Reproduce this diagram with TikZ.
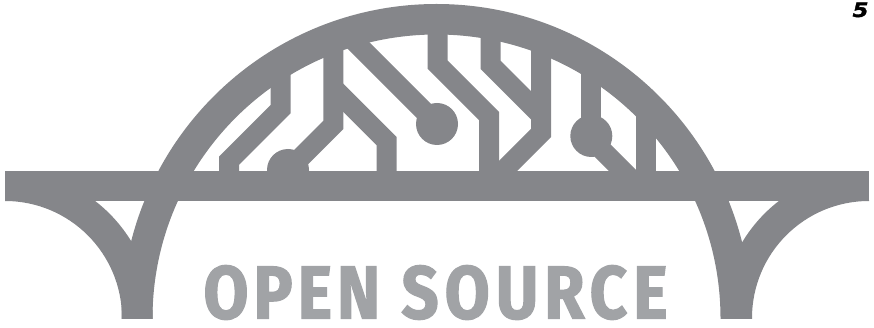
\documentclass[tikz,border=0pt]{standalone}
\usepackage{fontspec}
\newfontfamily\labelfont[FakeBold=1.6,FakeStretch=0.87,LetterSpace=8,WordSpace=0.75]{Fira Sans Bold}
\newfontfamily\markfont[FakeBold=1.5,FakeStretch=1.15]{DejaVu Sans Bold Oblique}
\definecolor{bridgegray}{HTML}{85868A}
\definecolor{labelgray}{HTML}{A1A3A6}
\tikzset{
  trace/.style={draw=bridgegray,line width=20pt,line cap=butt,line join=miter,miter limit=10},
  solder/.style={fill=bridgegray},
  massive/.style={fill=bridgegray,even odd rule},
}
\begin{document}
\begin{tikzpicture}[x=1pt,y=-1pt]
\useasboundingbox (0,0) rectangle (874,328);
% main arch and flank arcs, all cut off at the foot line
\begin{scope}
  \clip (0,0) rectangle (874,318);
  \fill[massive] (436.5,319) circle[radius=315] (436.5,318.5) circle[radius=284];
\end{scope}
\begin{scope}
  \clip (5,201) rectangle (869,318);
  \fill[massive] (5,318) circle[radius=147.7] (5,318) circle[radius=117];
  \fill[massive] (869,318) circle[radius=147.7] (869,318) circle[radius=117];
\end{scope}
% deck
\fill[bridgegray] (5,171) rectangle (869,201);
% circuit traces
\draw[trace] (280.7,62) -- (280.7,109) -- (229,160.7) -- (229,178);
\draw[trace] (333.3,37) -- (333.3,125) -- (288,170.3);
\draw[trace] (333.3,87.8) -- (386.5,141) -- (386.5,178);
\draw[trace] (345,32) -- (437,124);
\draw[trace] (437.5,18) -- (437.5,64.5) -- (489,116) -- (489,178);
\draw[trace] (490.7,23) -- (490.7,65) -- (541,115.3);
\draw[trace] (541,37) -- (541,133) -- (495,179);
\draw[trace] (591.2,61) -- (591.2,136);
\draw[trace] (591.2,139.2) -- (633,181);
\draw[trace] (645.7,103) -- (645.7,178);
% solder pads
\fill[solder] (288,170) circle[radius=21];
\fill[solder] (437,124) circle[radius=21];
\fill[solder] (591.3,136) circle[radius=21];
% texts
\node[anchor=base,inner sep=0pt,text=labelgray,font=\labelfont\fontsize{75}{75}\selectfont] (label) at (435.5,318.5) {O\kern5pt P\kern5pt E\kern5pt N \kern5pt SOURCE};
\node[anchor=base,inner sep=0pt,text=black,font=\markfont\fontsize{20}{20}\selectfont] (mark) at (860.5,17) {5};
\end{tikzpicture}
\end{document}
